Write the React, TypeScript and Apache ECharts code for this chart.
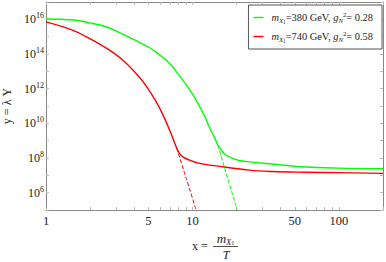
import React, { useEffect, useRef } from "react";
import * as echarts from "echarts";

// ---- data ----
const masses = [380, 740];
const couplings = [0.28, 0.58];
const colors = ["#00ff00", "#ff0000"];

const greenSolidX = [1, 1.53, 1.99, 2.6, 3.34, 4.36, 5.1, 5.97, 6.98, 8.56, 9.54, 10.6, 12.1, 13.0, 14.1, 14.9, 15.7, 16.9, 18.8, 21.4, 24.4, 35, 59.6, 100, 200];
const greenSolidY = [1.05e16, 9.1e15, 6.2e15, 3.6e15, 1.4e15, 4.6e14, 2.3e14, 8.7e13, 2.8e13, 3.2e12, 8.9e11, 2.2e11, 2.6e10, 6.3e9, 1.6e9, 5.6e8, 2.9e8, 1.48e8, 9.6e7, 6.9e7, 6.0e7, 4.5e7, 3.0e7, 2.6e7, 2.45e7];
const greenDashX = [14.9, 17.4, 20.2];
const greenDashY = [5.6e8, 6.8e6, 1.0e5];

const redSolidX = [1, 1.53, 1.99, 2.6, 3.34, 4.36, 5.1, 5.97, 6.98, 7.8, 8.16, 8.6, 9.54, 11.2, 14.5, 24.4, 35, 59.6, 100, 200];
const redSolidY = [7.1e15, 2.3e15, 7.8e14, 2.1e14, 4.5e13, 4.4e12, 7.2e11, 7.6e10, 4.1e9, 3.8e8, 1.86e8, 1.17e8, 7.6e7, 4.9e7, 3.5e7, 2.0e7, 1.66e7, 1.5e7, 1.43e7, 1.3e7];
const redDashX = [7.8, 9.06, 10.6];
const redDashY = [3.8e8, 6.8e6, 1.0e5];

const xLabelValues = [1, 5, 10, 50, 100];
const xTickValues = [1, 2, 3, 4, 5, 6, 7, 8, 9, 10, 20, 30, 40, 50, 60, 70, 80, 90, 100, 200];
const yLabelValues = [1e6, 1e8, 1e10, 1e12, 1e14, 1e16];
const yTickValues = [1e5, 1e6, 1e7, 1e8, 1e9, 1e10, 1e11, 1e12, 1e13, 1e14, 1e15, 1e16, 1e17];

const FONT = "Liberation Serif";

function zip(xs: number[], ys: number[]) {
  return xs.map((x, i) => [x, ys[i]]);
}

export default function App() {
  const ref = useRef<HTMLDivElement>(null);
  useEffect(() => {
    if (!ref.current) return;
    const chart = echarts.init(ref.current, null, { renderer: "svg" });
    const names = masses.map((m, i) => `m${m}g${couplings[i]}`);
    const legendLabel = (name: string) => {
      const i = names.indexOf(name);
      return `{i|m}{s|X}{ss|1}{t|=${masses[i]} GeV, }{i|g}{s|N}{p|2}{t|= ${couplings[i].toFixed(2)}}`;
    };
    const richSmall = {
      t: { fontFamily: FONT, fontSize: 10.4, color: "#222", lineHeight: 13 },
      i: { fontFamily: FONT, fontSize: 10.4, fontStyle: "italic", color: "#222", lineHeight: 13 },
      s: { fontFamily: FONT, fontSize: 6.8, fontStyle: "italic", color: "#222", verticalAlign: "bottom", lineHeight: 13 },
      ss: { fontFamily: FONT, fontSize: 5.2, color: "#222", verticalAlign: "bottom", lineHeight: 13 },
      p: { fontFamily: FONT, fontSize: 6.8, color: "#222", verticalAlign: "top", lineHeight: 13 },
    };
    const axisLineStyle = { color: "#888", width: 1 };
    const tickStyle = { color: "#bbb", width: 1 };
    const xBase = {
      type: "log" as const,
      logBase: 10,
      min: 1,
      max: 200,
      splitLine: { show: false },
      axisLine: { show: true, lineStyle: axisLineStyle },
      axisTick: { show: true, inside: true, length: 3, lineStyle: tickStyle, customValues: xTickValues },
    };
    const yBase = {
      type: "log" as const,
      logBase: 10,
      min: 1e5,
      max: 1e17,
      splitLine: { show: false },
      axisLine: { show: true, lineStyle: axisLineStyle },
      axisTick: { show: true, inside: true, length: 3, lineStyle: tickStyle, customValues: yTickValues },
    };
    const lineSeries = (name: string, xs: number[], ys: number[], color: string, dashed: boolean) => ({
      name,
      type: "line",
      data: zip(xs, ys),
      symbol: "none",
      showSymbol: false,
      smooth: dashed ? 0.2 : 0.4,
      lineStyle: dashed ? { color, width: 1, type: [4, 2] } : { color, width: 1.4 },
      itemStyle: { color },
    });
    chart.setOption({
      animation: false,
      backgroundColor: "#fff",
      grid: { left: 46, right: 3, top: 2, bottom: 52, containLabel: false, outerBoundsMode: "none" },
      xAxis: [
        {
          ...xBase,
          position: "bottom",
          axisLabel: {
            show: true,
            customValues: xLabelValues,
            formatter: (v: number) => String(v),
            fontFamily: FONT,
            fontSize: 12.5,
            color: "#222",
            margin: 4,
          },
        },
        { ...xBase, position: "top", axisLabel: { show: false } },
      ],
      yAxis: [
        {
          ...yBase,
          position: "left",
          name: "y = λ Y",
          nameLocation: "middle",
          nameGap: 32,
          nameTextStyle: { fontFamily: FONT, fontSize: 12, color: "#222" },
          axisLabel: {
            show: true,
            customValues: yLabelValues,
            margin: 2,
            formatter: (v: number) => `{a|10}{b|${Math.round(Math.log10(v))}}`,
            rich: {
              a: { fontFamily: FONT, fontSize: 12, color: "#222", lineHeight: 15 },
              b: { fontFamily: FONT, fontSize: 8, color: "#222", verticalAlign: "top", lineHeight: 15 },
            },
          },
        },
        { ...yBase, position: "right", axisLabel: { show: false } },
      ],
      legend: {
        data: names,
        orient: "vertical",
        right: 4,
        top: 5,
        padding: [6, 9, 6, 5],
        itemGap: 6,
        itemWidth: 10,
        itemHeight: 13,
        icon: "path://M0,0H10V1.4H0Z",
        backgroundColor: "#fff",
        borderColor: "#555",
        borderWidth: 1,
        formatter: legendLabel,
        textStyle: { rich: richSmall, padding: [0, 0, 0, 3] },
      },
      graphic: [
        {
          type: "text",
          x: 200,
          y: 246,
          style: { text: "x =", font: `12px '${FONT}'`, fill: "#222", align: "center", verticalAlign: "middle" },
        },
        {
          type: "text",
          x: 225.5,
          y: 238,
          style: {
            text: "{i|m}{s|X}{ss|1}",
            align: "center",
            verticalAlign: "middle",
            rich: {
              i: { fontFamily: FONT, fontSize: 13, fontStyle: "italic", fill: "#222", lineHeight: 16 },
              s: { fontFamily: FONT, fontSize: 8.5, fontStyle: "italic", fill: "#222", verticalAlign: "bottom", lineHeight: 16 },
              ss: { fontFamily: FONT, fontSize: 6, fill: "#222", verticalAlign: "bottom", lineHeight: 16 },
            },
          },
        },
        {
          type: "line",
          shape: { x1: 213, y1: 246.5, x2: 238, y2: 246.5 },
          style: { stroke: "#222", lineWidth: 0.8 },
        },
        {
          type: "text",
          x: 226,
          y: 255,
          style: { text: "T", font: `italic 12px '${FONT}'`, fill: "#222", align: "center", verticalAlign: "middle" },
        },
      ],
      series: [
        lineSeries(names[0], greenSolidX, greenSolidY, colors[0], false),
        lineSeries(names[1], redSolidX, redSolidY, colors[1], false),
        lineSeries("gd", greenDashX, greenDashY, colors[0], true),
        lineSeries("rd", redDashX, redDashY, colors[1], true),
      ],
    });
    return () => chart.dispose();
  }, []);
  return <div ref={ref} style={{ width: 386, height: 262, position: "absolute", left: 0, top: 0 }} />;
}
